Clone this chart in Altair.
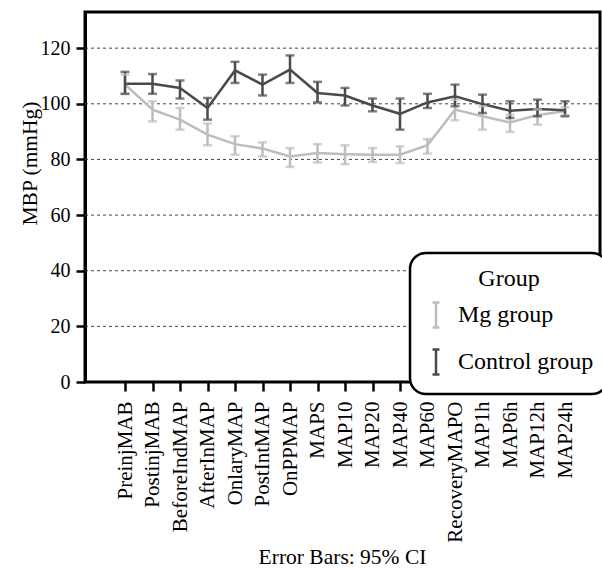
import altair as alt
import pandas as pd

categories = ["PreinjMAB", "PostinjMAB", "BeforeIndMAP", "AfterInMAP", "OnlaryMAP",
              "PostIntMAP", "OnPPMAP", "MAPS", "MAP10", "MAP20", "MAP40", "MAP60",
              "RecoveryMAPO", "MAP1h", "MAP6h", "MAP12h", "MAP24h"]
groups = ["Mg group", "Control group"]

mg_mean = [107.0, 97.9, 94.3, 88.9, 85.5, 83.9, 81.1, 82.3, 81.9, 81.7, 81.7, 85.1, 97.9, 95.5, 93.3, 96.0, 97.3]
mg_lo = [103.5, 93.7, 90.7, 85.1, 81.7, 81.1, 77.3, 78.9, 78.3, 79.1, 78.7, 82.1, 94.1, 90.7, 89.9, 92.5, 95.9]
mg_hi = [110.5, 100.9, 98.5, 92.9, 88.3, 86.1, 84.1, 85.5, 85.1, 84.1, 84.7, 87.3, 101.5, 99.1, 96.1, 98.0, 98.7]

ctrl_mean = [107.2, 107.2, 105.7, 98.5, 112.0, 106.9, 112.3, 103.9, 103.0, 99.4, 96.4, 100.5, 102.7, 99.9, 97.5, 98.1, 97.7]
ctrl_lo = [103.6, 103.6, 101.9, 94.3, 107.5, 103.0, 107.5, 100.5, 99.4, 97.3, 90.7, 98.5, 99.1, 96.7, 94.9, 95.5, 95.5]
ctrl_hi = [111.5, 110.7, 108.4, 102.1, 115.1, 110.5, 117.4, 107.9, 105.7, 101.9, 101.9, 103.6, 106.9, 103.3, 100.9, 101.5, 100.9]

y_ticks = [0, 20, 40, 60, 80, 100, 120]
grid_values = [20, 40, 60, 80, 100, 120]
colors = ["#bdbdbd", "#4a4a4a"]

rows = []
for g, m, lo, hi in [(groups[0], mg_mean, mg_lo, mg_hi), (groups[1], ctrl_mean, ctrl_lo, ctrl_hi)]:
    for i, c in enumerate(categories):
        rows.append({"cat": c, "group": g, "mean": m[i], "lo": lo[i], "hi": hi[i],
                     "gorder": groups.index(g)})
df = pd.DataFrame(rows)
grid_df = pd.DataFrame({"v": grid_values})

FONT = "Liberation Serif, Times New Roman, Times, serif"
W, H = 515, 370

x_scale = alt.Scale(type="point", range=[40, 480], padding=0)
x_axis = alt.Axis(title="Error Bars: 95% CI", labelAngle=-90, labelAlign="right",
                  labelBaseline="middle", labelFontSize=21, titleFontSize=21.5,
                  labelFont=FONT, titleFont=FONT, domain=False,
                  tickSize=9, tickWidth=2.5, tickColor="black",
                  labelPadding=10, titleY=181, titleX=257,
                  titleBaseline="alphabetic", grid=False, labelColor="black",
                  titleFontWeight="normal", titleColor="black")
y_axis = alt.Axis(title="MBP (mmHg)", values=y_ticks, grid=False,
                  labelFontSize=20, titleFontSize=21.5,
                  labelFont=FONT, titleFont=FONT,
                  tickSize=9, tickWidth=2.5, tickColor="black", domainWidth=3,
                  domainColor="black", labelPadding=6, titleAngle=-90, titleX=-49,
                  titleY=151, titleBaseline="alphabetic", labelColor="black",
                  titleColor="black", titleFontWeight="normal")
x_enc = alt.X("cat:N", sort=categories, scale=x_scale, axis=x_axis)
y_scale = alt.Scale(domain=[0, 133], nice=False)
color_scale = alt.Scale(domain=groups, range=colors)

grid = alt.Chart(grid_df).mark_rule(strokeDash=[3, 3], color="#444", strokeWidth=1).encode(
    y=alt.Y("v:Q", scale=y_scale, axis=y_axis),
    x=alt.value(0), x2=alt.value(W),
)

base = alt.Chart(df)

line = base.mark_line(strokeWidth=2.5).encode(
    x=x_enc,
    y=alt.Y("mean:Q", scale=y_scale, axis=y_axis),
    color=alt.Color("group:N", scale=color_scale, sort=groups,
                    legend=alt.Legend(title="Group")),
    order="gorder:Q",
    detail="group:N",
)

rule = base.mark_rule(strokeWidth=2.5).encode(
    x=x_enc,
    y=alt.Y("lo:Q", scale=y_scale, axis=y_axis), y2="hi:Q",
    color=alt.Color("group:N", scale=color_scale, sort=groups, legend=None),
)
tick_lo = base.mark_tick(size=9, thickness=2.5).encode(
    x=x_enc, y=alt.Y("lo:Q", scale=y_scale, axis=y_axis),
    color=alt.Color("group:N", scale=color_scale, sort=groups, legend=None),
)
tick_hi = base.mark_tick(size=9, thickness=2.5).encode(
    x=x_enc, y=alt.Y("hi:Q", scale=y_scale, axis=y_axis),
    color=alt.Color("group:N", scale=color_scale, sort=groups, legend=None),
)

chart = alt.layer(grid, line, rule, tick_lo, tick_hi).properties(
    width=W, height=H,
    autosize=alt.AutoSizeParams(type="none"),
    padding={"left": 85, "top": 12, "right": 2, "bottom": 187},
).configure(font=FONT).configure_view(
    stroke="black", strokeWidth=3
).configure_legend(
    orient="none", legendX=325, legendY=241,
    strokeColor="black", strokeWidth=2.5, cornerRadius=16, fillColor="white",
    padding=14, titleFontSize=24, labelFontSize=24, titleFontWeight="normal",
    titleAnchor="middle", titleColor="black", labelColor="black", titlePadding=12,
    rowPadding=11, labelOffset=10,
    symbolType="M-0.7,-2.5H0.7M0,-2.5V2.5M-0.7,2.5H0.7", symbolSize=100,
    symbolStrokeWidth=2.5, symbolFillColor="transparent",
    titleFont=FONT, labelFont=FONT,
)

chart.save("out.html", embed_options={"renderer": "svg", "actions": False})
